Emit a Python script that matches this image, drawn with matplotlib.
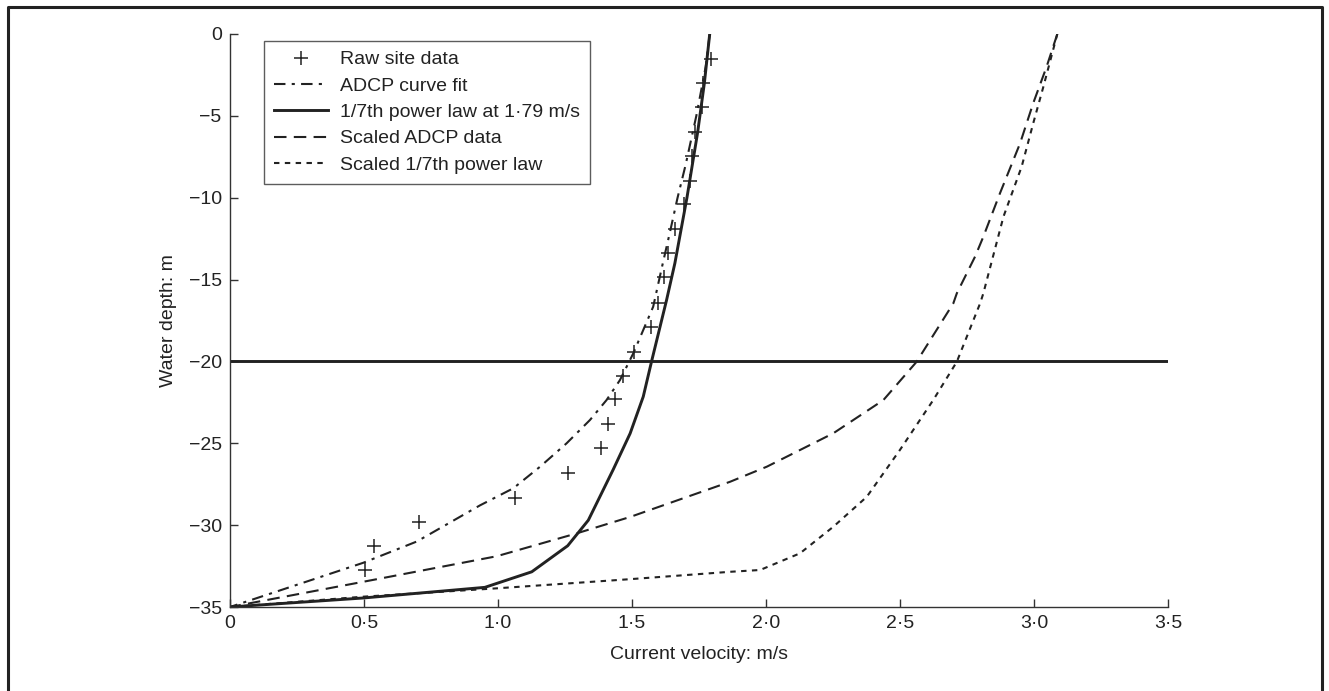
import numpy as np
import matplotlib
matplotlib.use("Agg")
import matplotlib.pyplot as plt
from matplotlib.lines import Line2D
from matplotlib.ticker import FuncFormatter

plt.rcParams['font.family'] = ['Liberation Sans', 'DejaVu Sans']

# ── Data ──────────────────────────────────────────────────────────────────────
raw_v = [1.794, 1.766, 1.760, 1.735, 1.723, 1.716, 1.694, 1.660, 1.636, 1.621,
         1.598, 1.570, 1.507, 1.468, 1.437, 1.412, 1.384, 1.260, 1.063, 0.704,
         0.537, 0.503]
raw_d = [-1.55, -2.97, -4.48, -5.97, -7.45, -8.96, -10.38, -11.93, -13.40, -14.86,
         -16.45, -17.88, -19.41, -20.89, -22.3, -23.84, -25.3, -26.8, -28.33, -29.79,
         -31.26, -32.74]

adcp_v = [1.79, 1.775, 1.74, 1.70, 1.67, 1.643, 1.615, 1.579, 1.505, 1.455, 1.405,
          1.343, 1.256, 1.157, 1.057, 0.933, 0.697, 0.497, 0.0]
adcp_d = [0, -2, -5, -8, -10, -12, -14, -16.66, -19.5, -21.14, -22.36,
          -23.58, -25.0, -26.43, -27.75, -28.79, -31.0, -32.3, -35]

power_v = [1.79, 1.77, 1.745, 1.705, 1.66, 1.629, 1.573, 1.542, 1.493, 1.43, 1.337,
           1.26, 1.126, 0.951, 0.497, 0.0]
power_d = [0, -3, -6, -10, -14, -16.25, -20, -22.15, -24.4, -26.6, -29.7,
           -31.26, -32.85, -33.8, -34.45, -35]

scaled_adcp_v = [3.087, 3.047, 2.997, 2.948, 2.873, 2.811, 2.78, 2.712, 2.699, 2.562,
                 2.438, 2.251, 2.003, 1.866, 1.493, 1.294, 0.995, 0.497, 0.0]
scaled_adcp_d = [0, -2.0, -4.23, -6.68, -9.73, -12.38, -13.6, -15.84, -16.45, -20.02,
                 -22.36, -24.39, -26.43, -27.35, -29.5, -30.5, -31.9, -33.46, -35]

scaled_power_v = [3.087, 3.035, 2.997, 2.954, 2.886, 2.811, 2.799, 2.712, 2.624, 2.5,
                  2.376, 2.251, 2.127, 1.978, 1.866, 1.493, 0.995, 0.497, 0.0]
scaled_power_d = [0, -3.22, -5.46, -8.1, -11.16, -15.84, -16.45, -20.02, -22.36, -25.4,
                  -28.27, -30.1, -31.72, -32.74, -32.85, -33.3, -33.86, -34.37, -35]

cut_depth = -20

# ── Plot ──────────────────────────────────────────────────────────────────────
fig = plt.figure(figsize=(13.29, 6.91), dpi=100)
fig.patch.set_facecolor('white')
W, H = 1329, 691
ax = fig.add_axes([230 / W, 1 - 607 / H, (1168 - 230) / W, (607 - 34) / H])

ink = '#222222'
ax.plot(raw_v, raw_d, linestyle='none', marker='+', color=ink,
        markersize=10, markeredgewidth=1.1, label='Raw site data')
ax.plot(adcp_v, adcp_d, color=ink, linewidth=1.5,
        dashes=(5.5, 3, 1.5, 3), label='ADCP curve fit')
ax.plot(power_v, power_d, color=ink, linewidth=2.1,
        label='1/7th power law at 1·79 m/s')
ax.plot(scaled_adcp_v, scaled_adcp_d, color=ink, linewidth=1.5,
        dashes=(6, 3.5), label='Scaled ADCP data')
ax.plot(scaled_power_v, scaled_power_d, color=ink, linewidth=1.5,
        dashes=(2.6, 2.6), label='Scaled 1/7th power law')
ax.axhline(cut_depth, color=ink, linewidth=2.1)

ax.set_xlim(0, 3.5)
ax.set_ylim(-35, 0)
ax.set_xticks(np.arange(0, 3.51, 0.5))
ax.set_yticks(np.arange(-35, 0.1, 5))
ax.xaxis.set_major_formatter(FuncFormatter(
    lambda v, p: '0' if v == 0 else f'{v:.1f}'.replace('.', '·')))
ax.yaxis.set_major_formatter(FuncFormatter(
    lambda v, p: f'{v:.0f}'.replace('-', '−')))

for side in ('top', 'right'):
    ax.spines[side].set_visible(False)
for side in ('left', 'bottom'):
    ax.spines[side].set_color('#333333')
    ax.spines[side].set_linewidth(1.0)
ax.tick_params(direction='in', length=6, width=1.0, color='#333333',
               labelsize=14, labelcolor=ink, pad=6)

ax.set_xlabel('Current velocity: m/s', fontsize=14, color=ink, labelpad=10)
ax.set_ylabel('Water depth: m', fontsize=14, color=ink, labelpad=8)

leg = ax.legend(loc='upper left', bbox_to_anchor=(34 / 938, 1 - 7 / 573),
                fontsize=14, frameon=True, fancybox=False, handlelength=2.8,
                handletextpad=0.6, borderpad=0.5, labelspacing=0.45,
                borderaxespad=0)
leg.get_frame().set_edgecolor('#333333')
leg.get_frame().set_linewidth(1.0)
for t in leg.get_texts():
    t.set_color(ink)

# outer frame (left, top, right)
fx0, fx1, fy = 8 / W, 1322 / W, 1 - 7 / H
fig.add_artist(Line2D([fx0, fx0, fx1, fx1], [0, fy, fy, 0],
                      transform=fig.transFigure, color=ink, linewidth=2.2))

plt.savefig('out.png', dpi=100, facecolor='white')
